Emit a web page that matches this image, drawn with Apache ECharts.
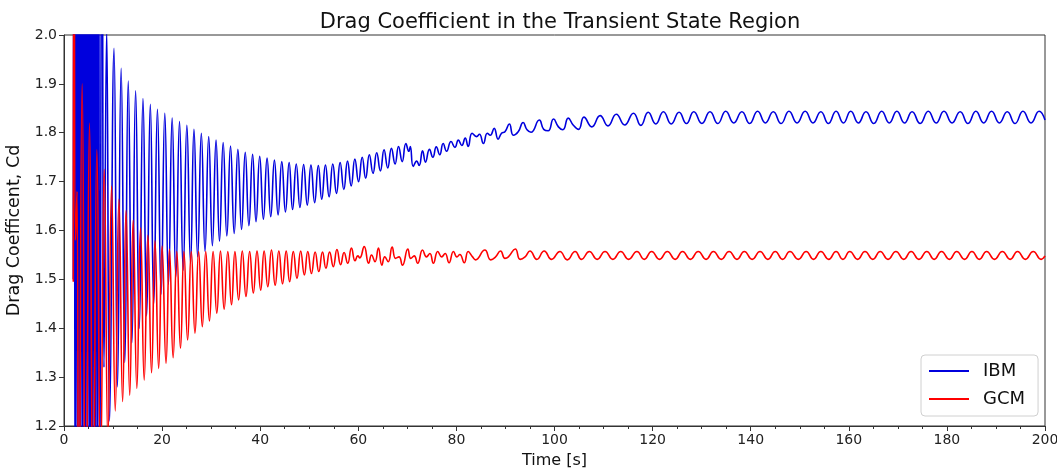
<!DOCTYPE html>
<html>
<head>
<meta charset="utf-8">
<script src="https://cdn.jsdelivr.net/npm/echarts@6/dist/echarts.min.js"></script>
<style>
html,body{margin:0;padding:0;background:#fff;}
#chart{width:1057px;height:468px;}
</style>
</head>
<body>
<div id="chart"></div>
<script>
// ---- data (extrema of each oscillation) ----
var titleText = 'Drag Coefficient in the Transient State Region';
var xName = 'Time [s]';
var yName = 'Drag Coefficent, Cd';
var seriesNames = ['IBM', 'GCM'];

var ibmTime = [1.9,2.05,2.3,2.55,2.8,3.05,3.3,3.55,3.8,4.05,
4.3,4.55,4.8,5.05,5.3,5.55,5.8,6.05,6.3,6.55,
6.8,7.05,7.3,7.75,8.15,8.7,9.3,10.2,10.9,11.65,
12.4,13.1,13.85,14.6,15.35,16.1,16.85,17.6,18.3,19.05,
19.8,20.55,21.3,22.05,22.8,23.55,24.3,25.05,25.8,26.5,
27.25,28.0,28.75,29.5,30.25,31.0,31.7,32.45,33.2,33.95,
34.7,35.45,36.2,36.95,37.7,38.45,39.15,39.9,40.65,41.4,
42.15,42.9,43.65,44.4,45.15,45.9,46.6,47.35,48.1,48.85,
49.6,50.35,51.1,51.85,52.55,53.3,54.05,54.8,55.55,56.3,
57.05,57.8,58.55,59.3,60.05,60.8,61.5,62.25,63.0,63.75,
64.5,65.25,66.0,66.75,67.5,68.2,68.95,69.7,70.3,70.6,
71.2,71.9,72.4,73.1,73.7,74.5,75.2,75.9,76.6,77.3,
78.0,78.9,79.7,80.4,81.1,81.8,82.4,83.2,84.1,84.7,
85.5,86.3,86.9,87.7,88.5,89.2,89.9,90.8,91.6,92.6,
93.6,94.4,95.2,96.9,97.8,98.7,99.8,100.8,101.7,102.8,
103.8,104.9,106.0,107.6,109.3,110.9,112.6,114.3,116.1,117.6,
119.1,120.65,122.2,123.8,125.4,126.9,128.4,130.05,131.7,133.3,
134.9,136.55,138.2,139.8,141.4,143.0,144.6,146.2,147.8,149.45,
151.1,152.7,154.3,155.85,157.4,158.9,160.4,161.95,163.5,165.1,
166.7,168.25,169.8,171.35,172.9,174.55,176.2,177.8,179.4,181.05,
182.7,184.3,185.9,187.5,189.1,190.7,192.3,193.9,195.5,197.15,
198.8,200];

var ibmCd = [1.50,2.5,0.9,2.5,0.9,2.5,0.9,2.5,0.9,2.5,
0.9,2.5,0.9,2.5,0.9,2.5,0.9,2.5,0.9,2.5,
0.9,2.5,1.05,2.4,1.32,2.01,1.21,1.973,1.28,1.932,
1.33,1.906,1.37,1.886,1.40,1.870,1.425,1.858,1.45,1.848,
1.47,1.840,1.49,1.830,1.505,1.823,1.519,1.815,1.533,1.807,
1.546,1.799,1.557,1.792,1.569,1.785,1.578,1.780,1.589,1.773,
1.594,1.766,1.602,1.760,1.610,1.756,1.618,1.752,1.623,1.748,
1.628,1.744,1.632,1.741,1.638,1.739,1.643,1.736,1.647,1.735,
1.652,1.734,1.657,1.733,1.664,1.734,1.669,1.736,1.676,1.739,
1.684,1.742,1.691,1.746,1.700,1.750,1.707,1.755,1.717,1.759,
1.722,1.765,1.728,1.768,1.736,1.772,1.741,1.778,1.762,1.772,
1.731,1.742,1.733,1.763,1.740,1.766,1.750,1.771,1.755,1.778,
1.762,1.782,1.770,1.785,1.774,1.789,1.772,1.799,1.792,1.797,
1.778,1.799,1.795,1.809,1.787,1.799,1.802,1.818,1.795,1.802,
1.821,1.806,1.801,1.826,1.807,1.804,1.828,1.812,1.806,1.830,
1.816,1.807,1.832,1.812,1.835,1.814,1.838,1.816,1.840,1.815,
1.842,1.818,1.843,1.818,1.842,1.819,1.843,1.819,1.843,1.819,
1.844,1.820,1.843,1.819,1.844,1.820,1.843,1.819,1.844,1.820,
1.844,1.820,1.843,1.819,1.844,1.820,1.844,1.820,1.843,1.819,
1.844,1.820,1.844,1.820,1.843,1.819,1.844,1.820,1.844,1.820,
1.843,1.819,1.844,1.820,1.844,1.820,1.843,1.819,1.844,1.820,
1.844,1.826];

var gcmTime = [1.9,2.05,2.35,2.65,3.0,3.7,4.45,5.2,5.95,6.7,
7.45,8.2,8.95,9.7,10.45,11.2,11.95,12.65,13.4,14.1,
14.85,15.6,16.35,17.1,17.85,18.55,19.3,20.0,20.8,21.5,
22.25,23.0,23.75,24.45,25.2,25.95,26.7,27.45,28.2,28.9,
29.65,30.4,31.15,31.9,32.65,33.4,34.15,34.85,35.6,36.35,
37.1,37.85,38.6,39.35,40.1,40.8,41.55,42.3,43.05,43.8,
44.55,45.3,46.0,46.75,47.5,48.25,49.0,49.7,50.45,51.2,
51.95,52.7,53.4,54.15,54.9,55.65,56.4,57.1,57.85,58.6,
59.35,59.9,60.3,61.2,62.1,62.7,63.4,64.1,64.8,65.4,
66.1,66.9,67.6,68.3,69.0,70.1,70.7,71.4,72.1,73.1,
73.9,74.6,75.3,76.2,77.0,77.7,78.5,79.4,80.1,80.7,
81.6,82.4,83.3,83.9,85.8,87.0,87.9,89.0,89.9,90.6,
92.0,93.0,94.0,95.0,96.4,97.9,99.4,101.1,102.6,104.2,
105.5,107.1,108.7,110.3,111.9,113.5,115.1,116.8,118.3,119.8,
121.4,123.0,124.6,126.1,127.7,129.3,130.9,132.4,134.0,135.6,
137.2,138.7,140.3,141.9,143.5,145.0,146.5,148.0,149.7,151.3,
152.8,154.3,155.9,157.4,158.8,160.2,161.8,163.3,164.9,166.4,
168.0,169.6,171.2,172.7,174.3,175.9,177.4,178.9,180.5,182.0,
183.6,185.1,186.6,188.1,189.7,191.3,192.9,194.4,196.0,197.6,
199.2,200];

var gcmCd = [1.495,2.4,1.58,1.68,0.8,1.90,0.9,1.82,1.0,1.765,
1.1,1.725,1.17,1.691,1.231,1.664,1.250,1.641,1.263,1.621,
1.277,1.605,1.294,1.590,1.309,1.579,1.318,1.568,1.328,1.562,
1.340,1.557,1.359,1.557,1.376,1.557,1.390,1.557,1.403,1.557,
1.415,1.557,1.431,1.558,1.439,1.557,1.448,1.557,1.458,1.558,
1.465,1.557,1.472,1.558,1.478,1.558,1.485,1.560,1.488,1.558,
1.491,1.558,1.495,1.557,1.502,1.558,1.509,1.557,1.512,1.556,
1.516,1.556,1.523,1.556,1.526,1.561,1.530,1.555,1.533,1.564,
1.538,1.548,1.544,1.567,1.533,1.550,1.536,1.564,1.529,1.546,
1.536,1.566,1.543,1.546,1.529,1.562,1.543,1.548,1.533,1.560,
1.546,1.553,1.533,1.557,1.546,1.553,1.534,1.557,1.546,1.551,
1.534,1.557,1.546,1.540,1.560,1.540,1.545,1.558,1.543,1.546,
1.562,1.541,1.546,1.558,1.541,1.558,1.541,1.557,1.540,1.557,
1.541,1.557,1.541,1.557,1.541,1.557,1.541,1.557,1.541,1.557,
1.541,1.557,1.541,1.557,1.541,1.557,1.541,1.557,1.541,1.557,
1.541,1.557,1.541,1.557,1.541,1.557,1.541,1.557,1.541,1.557,
1.541,1.557,1.541,1.557,1.541,1.557,1.541,1.557,1.541,1.557,
1.541,1.557,1.541,1.557,1.541,1.557,1.541,1.557,1.541,1.557,
1.541,1.557,1.541,1.557,1.541,1.557,1.541,1.557,1.541,1.557,
1.541,1.548];

function pairs(xs, ys){ return xs.map(function(x,i){ return [x, ys[i]]; }); }

var FONT = 'DejaVu Sans';
var chart = echarts.init(document.getElementById('chart'), null, {renderer:'canvas'});
chart.setOption({
  animation: false,
  backgroundColor: '#fff',
  title: {
    text: titleText, left: 555, top: 7, textAlign: 'center',
    textStyle: {fontFamily: FONT, fontSize: 21, fontWeight: 'normal', color: '#111'}
  },
  grid: {left: 64, right: 12, top: 35, bottom: 42, show: true, borderColor: '#333', borderWidth: 1,
         backgroundColor: 'transparent', outerBoundsMode: 'none', containLabel: false},
  legend: {
    orient: 'vertical', left: 921, top: 355,
    data: seriesNames,
    backgroundColor: '#fff', borderColor: '#d0d0d0', borderWidth: 1, borderRadius: 4,
    padding: [7, 13, 8, 8], itemGap: 10,
    itemWidth: 40, itemHeight: 2, icon: 'rect',
    textStyle: {fontFamily: FONT, fontSize: 18, color: '#111', padding: [0, 0, 0, 9]}
  },
  xAxis: {
    type: 'value', min: 0, max: 200, interval: 20,
    name: xName, nameLocation: 'middle', nameGap: 27,
    nameTextStyle: {fontFamily: FONT, fontSize: 16, color: '#111'},
    axisLine: {show: true, lineStyle: {color: '#333', width: 1}},
    axisTick: {show: true, length: 5, lineStyle: {color: '#333'}},
    minorTick: {show: true, splitNumber: 4, length: 3, lineStyle: {color: '#333'}},
    axisLabel: {fontFamily: FONT, fontSize: 14, color: '#222', margin: 7},
    splitLine: {show: false}
  },
  yAxis: {
    type: 'value', min: 1.2, max: 2.0, interval: 0.1,
    name: yName, nameLocation: 'middle', nameGap: 28, nameRotate: 90,
    nameTextStyle: {fontFamily: FONT, fontSize: 17.5, color: '#111'},
    axisLine: {show: true, lineStyle: {color: '#333', width: 1}},
    axisTick: {show: true, length: 5, lineStyle: {color: '#333'}},
    axisLabel: {fontFamily: FONT, fontSize: 14, color: '#222', margin: 7,
      formatter: function(v){ return v.toFixed(1); }},
    splitLine: {show: false}
  },
  series: [
    {name: seriesNames[0], type: 'line', data: pairs(ibmTime, ibmCd), showSymbol: false, symbol: 'none',
     smooth: 0.5, clip: true, lineStyle: {color: '#0000dd', width: 1.6}, itemStyle: {color: '#0000dd'}},
    {name: seriesNames[1], type: 'line', data: pairs(gcmTime, gcmCd), showSymbol: false, symbol: 'none',
     smooth: 0.5, clip: true, lineStyle: {color: '#ff0000', width: 1.6}, itemStyle: {color: '#ff0000'}}
  ]
});
</script>
</body>
</html>
